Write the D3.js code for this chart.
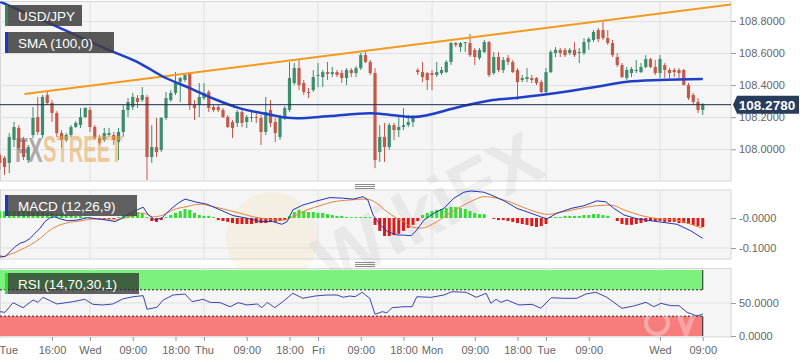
<!DOCTYPE html>
<html><head><meta charset="utf-8">
<script src="https://cdn.jsdelivr.net/npm/d3@7"></script>
<style>html,body{margin:0;padding:0;background:#fff;}svg{display:block;font-family:"Liberation Sans",Arial,sans-serif;}</style>
</head><body><svg id="c" width="808" height="363"></svg>
<script>
// ---------- DATA (hourly candles, hour index counted from Tue 00:00, weekend removed) ----------
const firstHour = 5;
const openP = [107.964,107.946,107.915,108.058,108.133,108.058,107.933,108.089,108.201,108.089,
108.338,108.288,108.226,108.101,108.058,108.089,108.139,108.151,108.201,108.245,
108.139,108.070,108.058,108.089,108.089,108.045,108.108,108.245,108.263,108.319,
108.307,108.326,107.952,108.014,107.996,108.195,108.307,108.351,108.419,108.432,
108.475,108.276,108.276,108.319,108.357,108.263,108.263,108.245,108.201,108.170,
108.164,108.232,108.170,108.195,108.201,108.195,108.108,108.245,108.170,108.077,
108.195,108.245,108.413,108.506,108.413,108.357,108.369,108.457,108.450,108.481,
108.469,108.481,108.475,108.444,108.494,108.475,108.506,108.587,108.544,108.475,
107.983,108.077,108.014,108.151,108.120,108.139,108.151,108.170,108.494,108.481,
108.475,108.475,108.463,108.475,108.481,108.544,108.662,108.637,108.662,108.662,
108.619,108.569,108.606,108.668,108.475,108.575,108.494,108.569,108.544,108.494,
108.432,108.438,108.444,108.444,108.419,108.357,108.481,108.600,108.619,108.619,
108.600,108.619,108.600,108.600,108.668,108.681,108.743,108.743,108.693,108.662,
108.575,108.525,108.444,108.475,108.488,108.481,108.513,108.562,108.513,108.475,
108.525,108.494,108.494,108.494,108.494,108.400,108.338,108.295,108.245];
const highP = [107.977,107.958,108.101,108.170,108.151,108.077,108.027,108.263,108.326,108.338,
108.357,108.307,108.238,108.120,108.101,108.151,108.176,108.257,108.263,108.263,
108.151,108.089,108.133,108.133,108.108,108.133,108.276,108.319,108.351,108.338,
108.388,108.338,108.151,108.195,108.201,108.357,108.369,108.481,108.450,108.475,
108.481,108.307,108.413,108.413,108.369,108.276,108.276,108.257,108.214,108.182,
108.245,108.245,108.214,108.232,108.226,108.214,108.326,108.307,108.195,108.214,
108.270,108.544,108.537,108.556,108.432,108.382,108.494,108.537,108.494,108.544,
108.513,108.494,108.494,108.506,108.506,108.519,108.600,108.606,108.556,108.506,
108.151,108.164,108.164,108.164,108.201,108.257,108.214,108.214,108.506,108.544,
108.481,108.494,108.544,108.513,108.556,108.668,108.668,108.668,108.668,108.718,
108.631,108.631,108.681,108.675,108.606,108.606,108.575,108.587,108.556,108.506,
108.463,108.506,108.463,108.450,108.432,108.506,108.619,108.637,108.631,108.631,
108.631,108.668,108.631,108.693,108.699,108.743,108.756,108.793,108.743,108.681,
108.600,108.537,108.513,108.513,108.556,108.537,108.587,108.569,108.556,108.587,
108.537,108.506,108.506,108.506,108.500,108.413,108.351,108.319,108.288];
const lowP = [107.871,107.840,107.852,108.014,107.996,107.933,107.915,108.070,108.089,108.070,
108.276,108.170,108.077,108.008,108.045,108.077,108.133,108.133,108.195,108.108,
108.058,108.027,108.045,108.077,108.027,107.933,108.077,108.201,108.245,108.257,
108.295,107.809,107.915,107.952,107.983,108.182,108.295,108.338,108.295,108.419,
108.245,108.182,108.201,108.307,108.232,108.232,108.232,108.195,108.133,108.070,
108.139,108.139,108.133,108.170,108.164,108.027,108.089,108.139,108.045,108.058,
108.182,108.232,108.400,108.369,108.338,108.319,108.357,108.388,108.388,108.432,
108.450,108.450,108.413,108.400,108.450,108.450,108.494,108.537,108.463,107.883,
107.921,107.921,107.996,108.058,108.077,108.120,108.139,108.139,108.463,108.419,
108.369,108.369,108.450,108.463,108.475,108.525,108.637,108.606,108.606,108.575,
108.525,108.556,108.600,108.450,108.463,108.481,108.475,108.525,108.475,108.307,
108.419,108.419,108.413,108.400,108.351,108.351,108.475,108.575,108.575,108.575,
108.587,108.575,108.537,108.587,108.619,108.668,108.668,108.681,108.650,108.575,
108.513,108.444,108.432,108.450,108.475,108.475,108.506,108.506,108.463,108.444,
108.444,108.444,108.450,108.444,108.400,108.307,108.276,108.226,108.214];
const closeP = [107.915,107.890,108.077,108.139,108.008,107.952,108.014,108.195,108.108,108.326,
108.288,108.226,108.101,108.058,108.089,108.139,108.164,108.201,108.257,108.139,
108.070,108.039,108.101,108.101,108.058,108.108,108.245,108.295,108.326,108.295,
108.338,107.952,108.014,107.983,108.195,108.319,108.351,108.413,108.444,108.463,
108.276,108.257,108.326,108.351,108.257,108.245,108.245,108.201,108.139,108.133,
108.232,108.164,108.201,108.201,108.195,108.108,108.232,108.164,108.101,108.195,
108.257,108.444,108.506,108.400,108.357,108.351,108.450,108.463,108.481,108.469,
108.481,108.463,108.444,108.494,108.475,108.506,108.587,108.544,108.475,107.933,
108.077,108.014,108.151,108.120,108.139,108.151,108.170,108.195,108.481,108.450,
108.432,108.463,108.481,108.494,108.544,108.662,108.650,108.662,108.668,108.587,
108.575,108.619,108.668,108.463,108.575,108.494,108.556,108.544,108.481,108.419,
108.444,108.450,108.432,108.413,108.357,108.481,108.606,108.619,108.600,108.587,
108.619,108.587,108.606,108.668,108.687,108.731,108.687,108.693,108.662,108.587,
108.525,108.450,108.494,108.500,108.494,108.513,108.562,108.513,108.475,108.562,
108.494,108.475,108.481,108.475,108.400,108.319,108.295,108.245,108.278];
const lastPrice = 108.278;

const smaHours  = [5.05,17.05,28.8,34.5,39.4,45.1,50.3,55.6,61.3,65.05,67.6,74.5,82.9,87.2,92.0,101.9,108.8,114.5,124.0,129.9,137.05,144,153];
const smaValues = [108.920,108.764,108.608,108.536,108.452,108.380,108.312,108.255,108.220,108.198,108.193,108.207,108.224,108.214,108.201,108.265,108.307,108.323,108.359,108.386,108.421,108.432,108.438];

const trendHours  = [10.2, 159];
const trendPrices = [108.344, 108.903];

const macdHours  = [5.05,6.1,7.2,8.2,9.3,10.3,11.4,12.4,13.5,14.5,15.6,16.6,17.7,19.2,21.3,23.4,25.5,27.6,29.3,30.9,33.1,35.2,36.2,37.7,39.2,40.8,42.5,44,46.1,48.6,51.4,54.1,57.1,59.8,62.5,64.4,65.5,66.7,68.8,71.8,74.5,77.3,79.4,81.5,82.5,83.6,85.1,86.7,88.8,90.1,91.6,92.8,94.3,96.4,98.5,100.6,102.7,104.2,106.9,108.4,111.2,113.9,116.8,118.9,120.2,122.3,125.3,128,130.7,132.6,134.3,136.4,139.2,143.4,147.6,150.5,153];
const macdValues = [-0.127,-0.129,-0.112,-0.096,-0.084,-0.079,-0.068,-0.051,-0.034,-0.012,0.001,0.004,-0.003,-0.009,-0.007,0.001,-0.003,-0.007,-0.012,0.001,0.021,0.036,0.012,-0.007,0.001,0.027,0.049,0.063,0.054,0.046,0.027,0.008,-0.001,-0.012,-0.012,-0.021,-0.012,0.027,0.043,0.057,0.068,0.066,0.063,0.071,0.060,0.010,-0.023,-0.046,-0.057,-0.057,-0.059,-0.040,-0.007,0.016,0.032,0.066,0.086,0.090,0.086,0.077,0.057,0.032,0.016,0.004,-0.003,0.016,0.032,0.041,0.057,0.054,0.032,0.010,-0.003,-0.012,-0.021,-0.043,-0.068];
const signalHours  = [5.05,7.2,9.3,11.4,13.5,15.6,17.7,19.8,21.9,24,26.1,28.2,30.3,33.1,35.2,37.3,39.4,41.5,44.4,47.2,49.9,52.8,55.6,58.3,61.3,64.6,66.7,69.7,72.4,75.2,78.7,82.3,84.4,86.5,88.6,90.1,91.6,93.7,96.4,99.2,102.1,104.8,106.9,109.7,112.6,115.4,118.1,120.2,123.2,126.5,130.7,133.7,136.4,139.2,143.4,147.6,150.5,153];
const signalValues = [-0.132,-0.121,-0.107,-0.090,-0.068,-0.040,-0.023,-0.014,-0.010,-0.004,-0.003,-0.007,-0.004,0.008,0.016,0.004,0.010,0.027,0.038,0.046,0.038,0.027,0.016,0.004,-0.003,-0.007,0.004,0.027,0.041,0.054,0.060,0.063,0.049,0.021,-0.001,-0.012,-0.029,-0.034,-0.018,0.010,0.038,0.060,0.071,0.066,0.052,0.034,0.019,0.012,0.019,0.030,0.041,0.043,0.027,0.012,-0.002,-0.007,-0.021,-0.034];
const histValues = [0.023,0.023,0.023,0.023,0.023,0.023,0.023,0.020,0.020,0.020,
0.017,0.017,0.013,0.013,0.010,0.010,0.007,0.007,0.003,0.003,
-0.003,-0.003,-0.003,-0.003,-0.003,0.003,0.010,0.013,0.017,0.020,
0.017,0.003,-0.010,-0.013,-0.007,0.003,0.010,0.017,0.023,0.030,
0.027,0.017,0.010,0.007,0.007,0.003,-0.007,-0.010,-0.013,-0.017,
-0.020,-0.020,-0.020,-0.020,-0.017,-0.017,-0.017,-0.013,-0.013,-0.010,
-0.007,0.007,0.020,0.027,0.023,0.020,0.020,0.017,0.017,0.013,
0.010,0.007,0.007,0.003,0.003,0.003,0.003,0.003,0.003,-0.023,
-0.043,-0.060,-0.060,-0.057,-0.053,-0.043,-0.033,-0.023,-0.010,0.010,
0.017,0.023,0.027,0.030,0.033,0.037,0.037,0.033,0.030,0.023,
0.017,0.013,0.013,0,-0.003,-0.007,-0.007,-0.010,-0.013,-0.017,
-0.020,-0.023,-0.027,-0.030,-0.027,-0.020,0.003,0.003,0.003,0.007,
0.007,0.007,0.007,0.010,0.010,0.013,0.013,0.010,0.007,0,
-0.010,-0.020,-0.023,-0.023,-0.020,-0.017,-0.013,-0.010,-0.010,-0.010,
-0.013,-0.013,-0.013,-0.017,-0.017,-0.020,-0.023,-0.027,-0.030];

const rsiHours  = [5.05,6.1,7.8,9.9,12.0,13.05,14.1,17.05,20.4,22.9,24.6,26.7,28.8,30.9,33.05,35.2,36.0,38.1,39.4,41.5,44.0,45.5,47.8,49.3,51.4,53.5,55.2,57.05,59.2,60.2,61.3,62.9,64.6,66.7,68.8,71.4,73.9,76.0,77.3,78.7,79.8,81.3,82.9,84.0,85.5,86.5,87.6,90.1,91.8,92.8,95.8,98.5,100.2,103.2,105.3,107.4,108.4,109.5,110.5,111.8,114.3,117.05,118.9,121.1,123.8,126.5,128.4,130.5,132.8,136.0,138.5,141.05,142.7,144.2,146.3,148.0,149.7,151.8,153];
const rsiValues = [36.8,35.9,50.5,42.9,54.5,51.0,58.6,48.5,52.0,55.6,48.0,47.0,48.5,56.1,59.5,61.1,40.5,43.5,54.5,62.1,63.6,52.0,55.6,51.0,50.5,44.4,50.5,47.0,48.5,42.9,51.0,42.9,52.0,64.7,57.1,60.6,62.1,62.1,58.6,60.6,59.5,66.2,57.1,32.9,36.8,35.3,42.9,44.4,44.4,59.5,58.6,62.1,67.1,66.2,58.6,64.7,49.5,55.6,51.0,54.5,47.0,48.0,42.0,58.0,57.1,57.1,63.6,66.2,58.6,42.0,45.5,51.0,44.4,49.5,45.9,45.9,35.9,30.3,33.3];
const rsiUpper = 70, rsiLower = 30;

const dayBoundaryHours = [24,48,72,96,120,144];
const timeTickHours  = [16,24,33,42,48,57,66,72,81,90,96,105,114,120,129,144,153];
const timeTickLabels = ["16:00","Wed","09:00","18:00","Thu","09:00","18:00","Fri","09:00","18:00","Mon","09:00","18:00","Tue","09:00","Wed","09:00"];
const startLabelHour = 6.9, startLabelText = "Tue";
const priceTicks = [108.0,108.2,108.4,108.6,108.8];
const macdTicks = [0,-0.1];
const rsiTicks = [50,0];

// ---------- LAYOUT ----------
const svg = d3.select("#c");
const plotR = 731;
const P = {main:[1.5,181], macd:[190,259], rsi:[268.5,337]};
const x  = d3.scaleLinear().domain([0,153]).range([-24,702.75]);
const yP = d3.scaleLinear().domain([107.8025,108.9177]).range([181,2]);
const yM = d3.scaleLinear().domain([-0.1367,0.0933]).range([259,190]);
const yR = d3.scaleLinear().domain([-1.5,103]).range([337,268]);

const defs = svg.append("defs");
Object.entries(P).forEach(([k,[t,b]])=>{
  defs.append("clipPath").attr("id","clip-"+k).append("rect").attr("x",0).attr("y",t).attr("width",plotR).attr("height",b-t);
});
Object.entries(P).forEach(([k,[t,b]])=>{
  svg.append("rect").attr("x",0.5).attr("y",t).attr("width",plotR-0.5).attr("height",b-t)
    .attr("fill","#f5f5f5").attr("stroke","#d6d6d6");
});
function panel(k){ return svg.append("g").attr("clip-path","url(#clip-"+k+")"); }

// ---------- WATERMARKS ----------
const wm = svg.append("g");
wm.append("circle").attr("cx",272).attr("cy",238).attr("r",46).attr("fill","rgba(240,196,90,0.12)");
wm.append("text").attr("transform","translate(440,232) rotate(-28)").attr("text-anchor","middle")
  .attr("font-size",74).attr("font-weight","bold").attr("fill","rgba(110,110,110,0.09)").text("WikiFX");

// ---------- GRID ----------
const gMain = panel("main"), gMacd = panel("macd"), gRsi = panel("rsi");
[[gMain,P.main],[gMacd,P.macd],[gRsi,P.rsi]].forEach(([g,[t,b]])=>{
  g.selectAll(".vg").data(dayBoundaryHours).join("line")
   .attr("x1",d=>x(d)).attr("x2",d=>x(d)).attr("y1",t).attr("y2",b).attr("stroke","#e0e0e0");
});
gMain.selectAll(".hg").data(priceTicks).join("line")
  .attr("x1",0).attr("x2",plotR).attr("y1",d=>Math.round(yP(d))+0.5).attr("y2",d=>Math.round(yP(d))+0.5).attr("stroke","#e0e0e0");
gMacd.append("line").attr("x1",0).attr("x2",plotR).attr("y1",yM(-0.1)).attr("y2",yM(-0.1)).attr("stroke","#e0e0e0");
gRsi.append("line").attr("x1",0).attr("x2",plotR).attr("y1",yR(50)).attr("y2",yR(50)).attr("stroke","#e0e0e0");

// ---------- CANDLES ----------
const candles = openP.map((o,i)=>({h:firstHour+i,o,hi:highP[i],lo:lowP[i],c:closeP[i]}));
const RED="#c4594a", GREEN="#3d8c6c";
const cg = gMain.append("g");
cg.selectAll("line").data(candles).join("line")
  .attr("x1",d=>x(d.h)).attr("x2",d=>x(d.h)).attr("y1",d=>yP(d.hi)).attr("y2",d=>yP(d.lo))
  .attr("stroke",d=>d.c>=d.o?GREEN:RED).attr("stroke-width",1);
cg.selectAll("rect").data(candles).join("rect")
  .attr("x",d=>x(d.h)-1.6).attr("width",3.2)
  .attr("y",d=>yP(Math.max(d.o,d.c))).attr("height",d=>Math.max(1,Math.abs(yP(d.o)-yP(d.c))))
  .attr("fill",d=>d.c>=d.o?GREEN:RED);

// FXSTREET watermark (over the candles, translucent)
gMain.append("text").attr("transform","translate(15,162) scale(0.6,1)").attr("font-size",36).attr("font-weight","bold")
  .attr("fill","rgba(105,105,105,0.55)").text("FX");
gMain.append("text").attr("transform","translate(43,162) scale(0.56,1)").attr("font-size",36).attr("font-weight","bold")
  .attr("fill","rgba(230,165,80,0.55)").text("STREET");

// trend line
gMain.append("line").attr("x1",x(trendHours[0])).attr("y1",yP(trendPrices[0]))
  .attr("x2",x(trendHours[1])).attr("y2",yP(trendPrices[1])).attr("stroke","#f39a1e").attr("stroke-width",2);
// SMA
gMain.append("path").datum(smaHours.map((h,i)=>[h,smaValues[i]]))
  .attr("d",d3.line().x(d=>x(d[0])).y(d=>yP(d[1])).curve(d3.curveMonotoneX))
  .attr("fill","none").attr("stroke","#1f3fc9").attr("stroke-width",2.5);
// last price line
gMain.append("line").attr("x1",0).attr("x2",plotR).attr("y1",yP(lastPrice)).attr("y2",yP(lastPrice))
  .attr("stroke","#1d2b4d").attr("stroke-width",1);

// ---------- MACD ----------
gMacd.selectAll("rect").data(histValues.map((v,i)=>({h:firstHour+i,v})).filter(d=>d.v!==0)).join("rect")
  .attr("x",d=>x(d.h)-1.5).attr("width",3)
  .attr("y",d=>Math.min(yM(0),yM(d.v))).attr("height",d=>Math.abs(yM(d.v)-yM(0)))
  .attr("fill",d=>d.v>0?"#33dd33":"#dd1a1a");
gMacd.append("path").datum(signalHours.map((h,i)=>[h,signalValues[i]]))
  .attr("d",d3.line().x(d=>x(d[0])).y(d=>yM(d[1])).curve(d3.curveMonotoneX))
  .attr("fill","none").attr("stroke","#e8843a").attr("stroke-width",1);
gMacd.append("path").datum(macdHours.map((h,i)=>[h,macdValues[i]]))
  .attr("d",d3.line().x(d=>x(d[0])).y(d=>yM(d[1])))
  .attr("fill","none").attr("stroke","#2236b8").attr("stroke-width",1);

// ---------- RSI ----------
const rEnd = x(153);
gRsi.append("rect").attr("x",0).attr("width",rEnd).attr("y",yR(100)).attr("height",yR(rsiUpper)-yR(100)).attr("fill","#7bf27b");
gRsi.append("rect").attr("x",0).attr("width",rEnd).attr("y",yR(rsiLower)).attr("height",yR(0)-yR(rsiLower)).attr("fill","#f77c7c");
[rsiUpper,rsiLower].forEach(v=>gRsi.append("line").attr("x1",0).attr("x2",rEnd).attr("y1",yR(v)).attr("y2",yR(v))
  .attr("stroke","#222").attr("stroke-dasharray","2,2"));
gRsi.append("line").attr("x1",rEnd).attr("x2",rEnd).attr("y1",yR(100)).attr("y2",yR(rsiUpper)).attr("stroke","#222");
gRsi.append("line").attr("x1",rEnd).attr("x2",rEnd).attr("y1",yR(rsiLower)).attr("y2",yR(0)).attr("stroke","#222");
// small translucent logo over the red band
gRsi.append("circle").attr("cx",657).attr("cy",323).attr("r",11).attr("fill","none").attr("stroke","rgba(255,255,255,0.35)").attr("stroke-width",4);
gRsi.append("path").attr("d","M678,312 L686,334 L694,312").attr("fill","none").attr("stroke","rgba(255,255,255,0.3)").attr("stroke-width",5);
gRsi.append("path").datum(rsiHours.map((h,i)=>[h,rsiValues[i]]))
  .attr("d",d3.line().x(d=>x(d[0])).y(d=>yR(d[1])))
  .attr("fill","none").attr("stroke","#3846b0").attr("stroke-width",1);

// ---------- AXES ----------
function styleAxis(g){
  g.select(".domain").remove();
  g.selectAll(".tick line").attr("stroke","#9a9a9a");
  g.selectAll(".tick text").attr("fill","#666").attr("font-size",11).attr("font-family","'Liberation Sans',Arial,sans-serif");
}
svg.append("g").attr("transform","translate("+plotR+",0)")
  .call(d3.axisRight(yP).tickValues(priceTicks).tickFormat(d=>d.toFixed(4)).tickSize(5).tickPadding(3)).call(styleAxis);
svg.append("g").attr("transform","translate("+plotR+",0)")
  .call(d3.axisRight(yM).tickValues(macdTicks).tickFormat(d=>"-"+Math.abs(d).toFixed(4)).tickSize(5).tickPadding(3)).call(styleAxis);
svg.append("g").attr("transform","translate("+plotR+",0)")
  .call(d3.axisRight(yR).tickValues(rsiTicks).tickFormat(d=>d.toFixed(4)).tickSize(5).tickPadding(3)).call(styleAxis);
svg.append("g").attr("transform","translate(0,"+P.rsi[1]+")")
  .call(d3.axisBottom(x).tickValues(timeTickHours).tickFormat((d,i)=>timeTickLabels[i]).tickSize(4).tickPadding(5)).call(styleAxis);
svg.append("text").attr("x",x(startLabelHour)).attr("y",P.rsi[1]+9).attr("dy","0.71em").attr("text-anchor","middle")
  .attr("fill","#666").attr("font-size",11).text(startLabelText);

// last price tag
const ly = yP(lastPrice);
svg.append("path").attr("d",`M${plotR+2},${ly} L${plotR+6},${ly-9} L799,${ly-9} L799,${ly+9} L${plotR+6},${ly+9} Z`).attr("fill","#283d5b");
svg.append("text").attr("x",767).attr("y",ly+5).attr("text-anchor","middle").attr("fill","#fff")
  .attr("font-size",13.5).attr("font-weight","bold").text(lastPrice.toFixed(4));

// panel separators (drag handles)
[185,263].forEach(y0=>{ [0,2,4].forEach(o=>svg.append("line").attr("x1",355).attr("x2",375).attr("y1",y0+o-0.5).attr("y2",y0+o-0.5).attr("stroke","#8a8a8a")); });

// ---------- LEGEND LABELS ----------
function tag(x0,y0,w,h,stripe,bg,txt){
  svg.append("rect").attr("x",x0).attr("y",y0).attr("width",w).attr("height",h).attr("fill",bg);
  svg.append("rect").attr("x",x0).attr("y",y0).attr("width",3).attr("height",h).attr("fill",stripe);
  svg.append("text").attr("x",x0+13).attr("y",y0+h/2+5).attr("fill","#fff").attr("font-size",13.5).text(txt);
}
tag(5,5,77,21,"#3f7f5f","rgba(62,62,62,0.86)","USD/JPY");
tag(5,32,109,21,"#1b36d0","rgba(62,62,62,0.86)","SMA (100,0)");
tag(5,195,132,21,"#1b36d0","rgba(62,62,62,0.82)","MACD (12,26,9)");
tag(5,273,134,21,"#33dd33","rgba(40,40,40,0.72)","RSI (14,70,30,1)");
</script></body></html>
